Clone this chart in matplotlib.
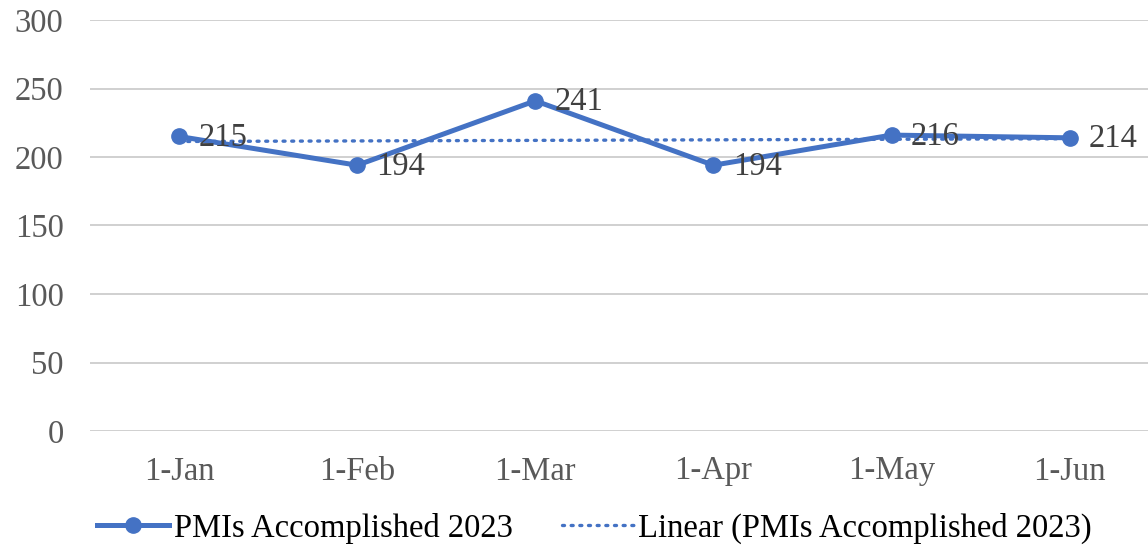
import numpy as np
import matplotlib.pyplot as plt

months = ["1-Jan", "1-Feb", "1-Mar", "1-Apr", "1-May", "1-Jun"]
pmis_2023 = [215, 194, 241, 194, 216, 214]
y_ticks = [0, 50, 100, 150, 200, 250, 300]

blue = "#4472C4"
plt.rcParams['font.family'] = ['Liberation Serif', 'DejaVu Serif']
fs = 23.5

fig = plt.figure(figsize=(11.48, 5.46), dpi=100)
ax = fig.add_axes([90 / 1148, (546 - 431) / 546, 1 - 90 / 1148, 411 / 546])

x = np.arange(len(months))

# linear trend line (least squares)
coef = np.polyfit(x, pmis_2023, 1)
trend = np.polyval(coef, x)
ax.plot(x, trend, color=blue, linewidth=2.4, linestyle=(0, (0.6, 2.0)),
        dash_capstyle='round', label="Linear (PMIs Accomplished 2023)", zorder=2)

ax.plot(x, pmis_2023, color=blue, linewidth=3.6, marker='o', markersize=11,
        label="PMIs Accomplished 2023", zorder=3)

for xi, v in zip(x, pmis_2023):
    ax.annotate(str(v), (xi, v), xytext=(14, -1), textcoords='offset points',
                ha='left', va='center', fontsize=fs, color='#404040', zorder=4)

ax.set_ylim(0, 300)
ax.set_yticks(y_ticks)
ax.set_xlim(-0.5, 5.44)
ax.set_xticks(x)
ax.set_xticklabels(months)
ax.tick_params(axis='both', length=0, labelsize=fs, labelcolor='#595959')
ax.tick_params(axis='x', pad=18)
ax.tick_params(axis='y', pad=19)
ax.grid(axis='y', color='#D0D0D0', linewidth=1.4)
ax.set_axisbelow(True)
for s in ax.spines.values():
    s.set_visible(False)

handles, labels = ax.get_legend_handles_labels()
fig.legend(handles[::-1], labels[::-1], loc='center', bbox_to_anchor=(0.518, 0.032),
           ncol=2, frameon=False, fontsize=fs, handlelength=2.2,
           columnspacing=1.5, handletextpad=0.15)

fig.savefig("out.png", dpi=100)
